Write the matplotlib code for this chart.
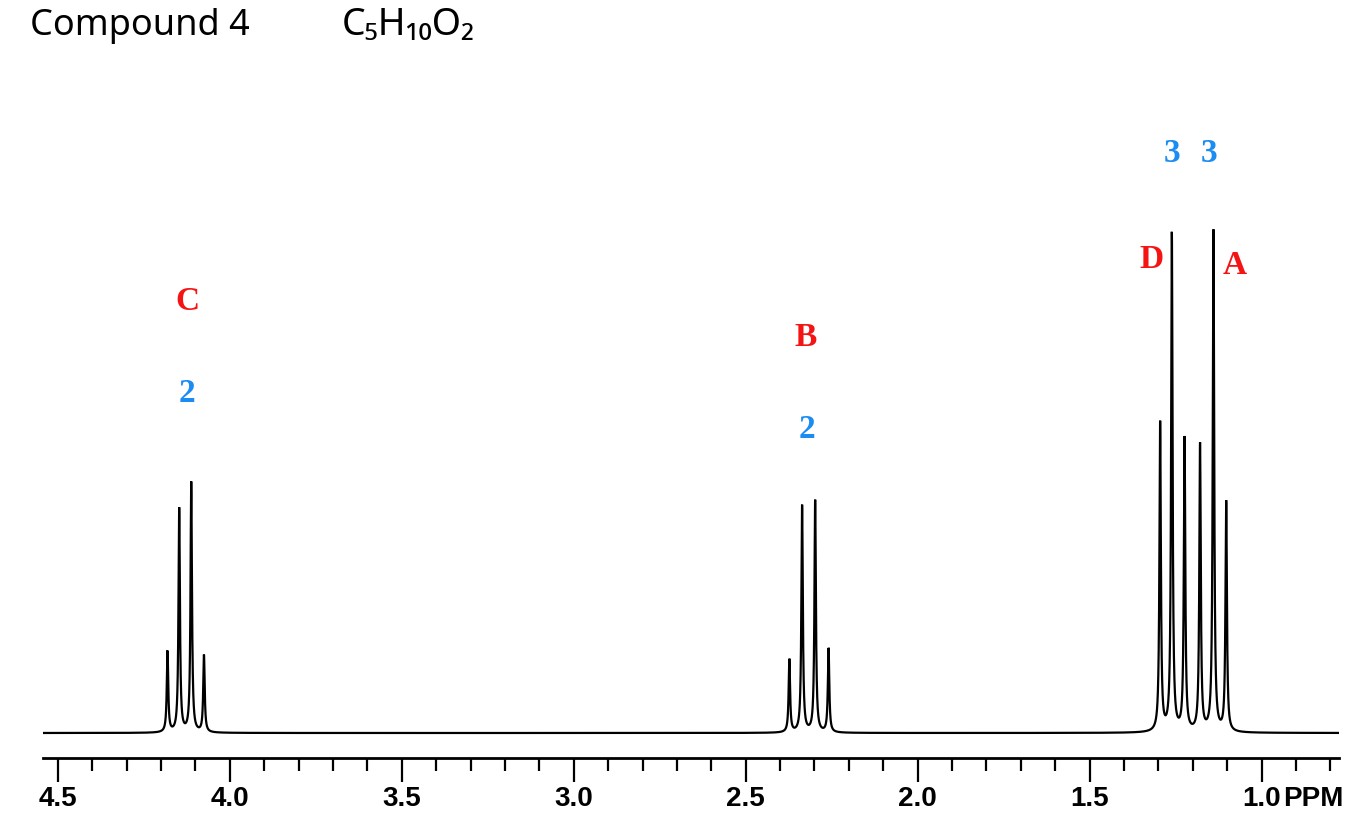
import numpy as np
import matplotlib
matplotlib.use("Agg")
from matplotlib import pyplot as plt
from matplotlib.ticker import MultipleLocator

# peak list: shift (ppm) and height above baseline
shift_c = [4.181, 4.147, 4.112, 4.075]
height_c = [81, 224, 250, 77]
shift_b = [2.373, 2.336, 2.298, 2.259]
height_b = [73, 227, 232, 84]
shift_da = [1.295, 1.261, 1.224, 1.179, 1.140, 1.103]
height_da = [309, 498, 293, 287, 501, 230]

major_ticks = [4.5, 4.0, 3.5, 3.0, 2.5, 2.0, 1.5, 1.0]
major_labels = ["4.5", "4.0", "3.5", "3.0", "2.5", "2.0", "1.5", "1.0"]

# group labels: (text, ppm, height, colour)
group_labels = [
    ("C", 4.124, 432, "red"),
    ("2", 4.124, 340, "blue"),
    ("B", 2.325, 395, "red"),
    ("2", 2.322, 303, "blue"),
    ("D", 1.319, 474, "red"),
    ("A", 1.078, 467, "red"),
    ("3", 1.261, 580, "blue"),
    ("3", 1.153, 580, "blue"),
]
colours = {"red": "#f41414", "blue": "#1b8cf2"}

hwhm = 0.0025
ppm = np.linspace(4.543, 0.775, 24000)
shifts = shift_c + shift_b + shift_da
heights = height_c + height_b + height_da
spectrum = np.zeros_like(ppm)
for s, h in zip(shifts, heights):
    spectrum += h / (1 + ((ppm - s) / hwhm) ** 2)

W, H = 1361, 824
fig = plt.figure(figsize=(W / 100, H / 100), dpi=100)
ax = fig.add_axes([43 / W, 1 - 758 / H, 1296 / W, (758 - 100) / H])
ax.plot(ppm, spectrum, color="black", lw=1.6, solid_joinstyle="miter")
ax.set_xlim(4.543, 0.775)
ax.set_ylim(-25, 633)

for side in ["top", "left", "right"]:
    ax.spines[side].set_visible(False)
ax.spines["bottom"].set_linewidth(2)
ax.set_yticks([])
ax.set_xticks(major_ticks)
ax.set_xticklabels(major_labels)
ax.xaxis.set_minor_locator(MultipleLocator(0.1))
ax.tick_params(axis="x", which="major", direction="out", length=17, width=1.6, pad=3)
ax.tick_params(axis="x", which="minor", direction="out", length=9.5, width=1.6)
tick_font = dict(family=["Liberation Sans", "DejaVu Sans"], fontweight="bold", fontsize=20)
for lab in ax.get_xticklabels():
    lab.set(**tick_font)
ax.annotate("PPM", xy=(0.937, 0), xycoords=("data", "axes fraction"),
            xytext=(0, -20), textcoords="offset points", ha="left", va="top",
            **tick_font)

for text, x, y, c in group_labels:
    ax.text(x, y, text, color=colours[c], ha="center", va="center",
            family=["Liberation Serif", "DejaVu Serif"], fontweight="bold",
            fontsize=24)

fig.text(30 / W, 1 - 35 / H, "Compound 4", ha="left", va="baseline",
         family=["Noto Sans", "DejaVu Sans"], fontsize=26)
fig.text(342 / W, 1 - 35 / H, "C\u2085H\u2081\u2080O\u2082", ha="left", va="baseline",
         family=["Noto Sans", "DejaVu Sans"], fontsize=27)

fig.savefig("out.png", dpi=100)
